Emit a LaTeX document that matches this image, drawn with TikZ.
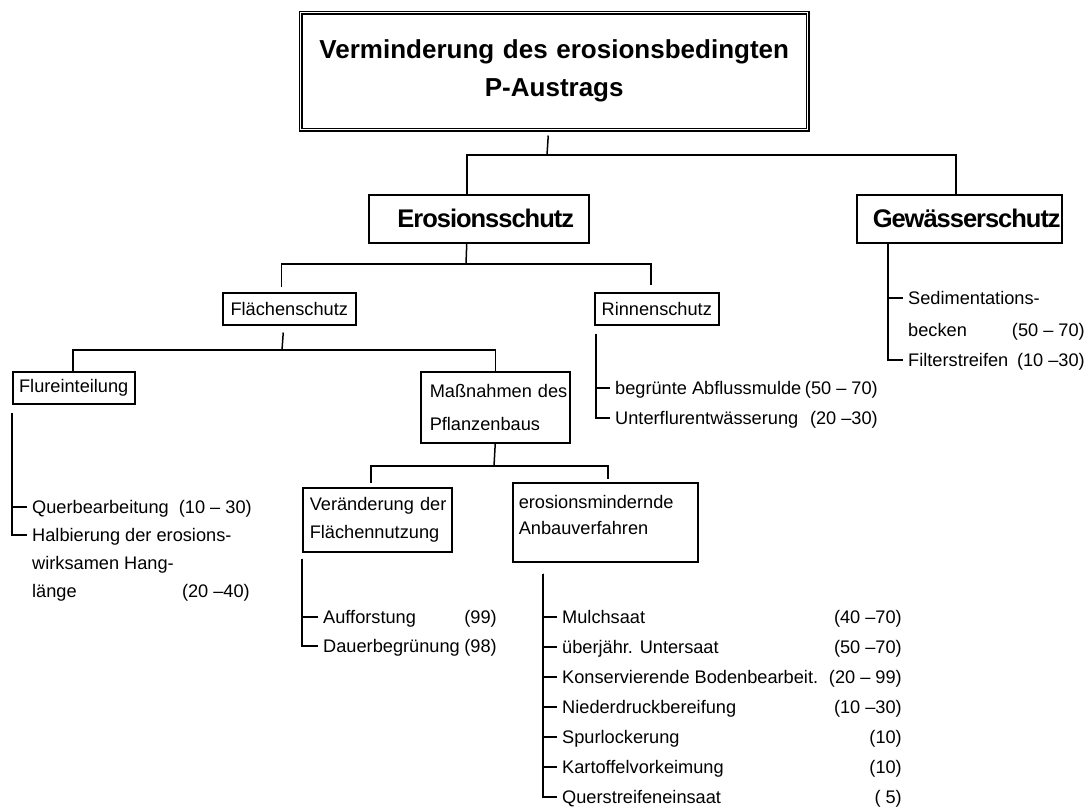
\documentclass[tikz,border=0pt]{standalone}
\usepackage{fontspec}
\setmainfont{Liberation Sans}
\newfontfamily\condbold{Liberation Sans}[LetterSpace=-4.0]
\newcommand\itemfont{\fontsize{18.2}{22}\selectfont}
\tikzset{
  ln/.style={line width=1.5pt},
  box/.style={draw, line width=1.5pt, inner sep=0pt, anchor=north west},
  item/.style={inner xsep=5pt, inner ysep=0pt, anchor=base west, text height=15pt, text depth=3pt, font=\itemfont},
  num/.style={inner sep=0pt, anchor=base east, font=\itemfont},
  lvtwo/.style={box, minimum height=48pt, font=\condbold\bfseries\fontsize{25.5}{30}\selectfont},
}
\begin{document}
\begin{tikzpicture}[x=1pt,y=-1pt]
\useasboundingbox (0,0) rectangle (1090,807);

% boxes
\node[box, double, double distance=1pt, line width=1.5pt, minimum width=507pt, minimum height=117pt,
      text width=507pt, align=center, font=\fontsize{26}{38}\selectfont\bfseries] (title) at (300,12)
      {Verminderung des erosionsbedingten\\P-Austrags};
\node[lvtwo, minimum width=220pt] (es) at (368,194) {\hspace*{14pt}Erosionsschutz};
\node[lvtwo, minimum width=205pt] (gw) at (856,194) {\hspace*{15pt}Gewässerschutz};
\node[box, minimum width=133pt, minimum height=32pt, font=\itemfont] (fs) at (222,292) {Flächenschutz};
\node[box, minimum width=124pt, minimum height=32pt, font=\itemfont] (rs) at (594,292) {Rinnenschutz};
\node[box, minimum width=122pt, minimum height=32pt, font=\itemfont] (fl) at (12,371) {Flureinteilung};
\node[box, minimum height=71pt, text width=131pt, inner xsep=9pt, align=left,
      font=\fontsize{18.2}{33}\selectfont] (mp) at (420,371) {Maßnahmen~des\\Pflanzenbaus};
\node[box, minimum height=64pt, text width=135pt, inner xsep=7pt, align=left,
      font=\fontsize{18.2}{28}\selectfont] (vn) at (302,487) {Veränderung~der\\Flächennutzung};
\node[box, minimum height=79pt, text width=173pt, inner xsep=6pt, align=left,
      font=\fontsize{18.2}{25.5}\selectfont] (em) at (512,482) {erosionsmindernde\\Anbauverfahren\\[-11pt]\mbox{}};

% tree junctions
\coordinate (j1) at (547,155);
\coordinate (j2) at (466,264);
\coordinate (j3) at (282,350);
\coordinate (j4) at (494,466);

\draw[ln] ([xshift=-6pt,yshift=-5pt]title.south) -- (j1);
\draw[ln] ([xshift=-12pt]es.north) |- (j1) -| ([xshift=-3.5pt]gw.north);
\draw[ln] ([xshift=-12pt]es.south) -- (j2);
\draw[ln] ([xshift=-8pt,yshift=5pt]fs.north) |- (j2) -| ([xshift=-6pt,yshift=7pt]rs.north);
\draw[ln] ([xshift=-6pt,yshift=-7pt]fs.south) -- (j3);
\draw[ln] ([xshift=-1pt]fl.north) |- (j3) -| (mp.north);
\draw[ln] (mp.south) -- (j4);
\draw[ln] ([xshift=-6.5pt,yshift=4pt]vn.north) |- (j4) -| ([xshift=2.5pt,yshift=3pt]em.north);

% Flureinteilung list
\node[item] (q1) at (27,513) {Querbearbeitung\ \ (10 – 30)};
\node[item] (q2) at (27,541) {Halbierung der erosions-};
\node[item] (q3) at (27,569) {wirksamen Hang-};
\node[item] (q4) at (27,597) {länge};
\node[num] (q4n) at (250,597) {(20 –40)};
\draw[ln] ([yshift=-8pt]fl.south west) |- (q1.west);
\draw[ln] ([yshift=-8pt]fl.south west) |- (q2.west);

% Rinnenschutz list
\node[item] (r1) at (610,394) {begrünte Abflussmulde};
\node[num] (r1n) at (878,394) {(50 – 70)};
\node[item] (r2) at (610,424) {Unterflurentwässerung};
\node[num] (r2n) at (878,424) {(20 –30)};
\draw[ln] ([xshift=2pt,yshift=-8pt]rs.south west) |- (r1.west);
\draw[ln] ([xshift=2pt,yshift=-8pt]rs.south west) |- (r2.west);

% Gewaesserschutz list
\node[item] (g1) at (903,304) {Sedimentations-};
\node[item] (g2) at (903,336) {becken};
\node[num] (g2n) at (1085,336) {(50 – 70)};
\node[item] (g3) at (903,366) {Filterstreifen};
\node[num] (g3n) at (1085,366) {(10 –30)};
\draw[ln] ([xshift=32pt]gw.south west) |- (g1.west);
\draw[ln] ([xshift=32pt]gw.south west) |- (g3.west);

% Veraenderung list
\node[item] (a1) at (318,623) {Aufforstung};
\node[num] (a1n) at (497,623) {(99)};
\node[item] (a2) at (318,652) {Dauerbegrünung};
\node[num] (a2n) at (497,652) {(98)};
\draw[ln] ([yshift=-6pt]vn.south west) |- (a1.west);
\draw[ln] ([yshift=-6pt]vn.south west) |- (a2.west);

% Anbauverfahren list
\foreach \i/\t/\n in {1/Mulchsaat/(40 –70), 2/überjähr. Untersaat/(50 –70),
  3/Konservierende Bodenbearbeit./(20 – 99), 4/Niederdruckbereifung/(10 –30),
  5/Spurlockerung/(10), 6/Kartoffelvorkeimung/(10), 7/Querstreifeneinsaat/(\ 5)}{
  \node[item] (m\i) at (557,593+30*\i) {\t};
  \node[num] (m\i n) at (902,593+30*\i) {\n};
  \draw[ln] ([xshift=31pt,yshift=-11pt]em.south west) |- (m\i.west);
}
\end{tikzpicture}
\end{document}
